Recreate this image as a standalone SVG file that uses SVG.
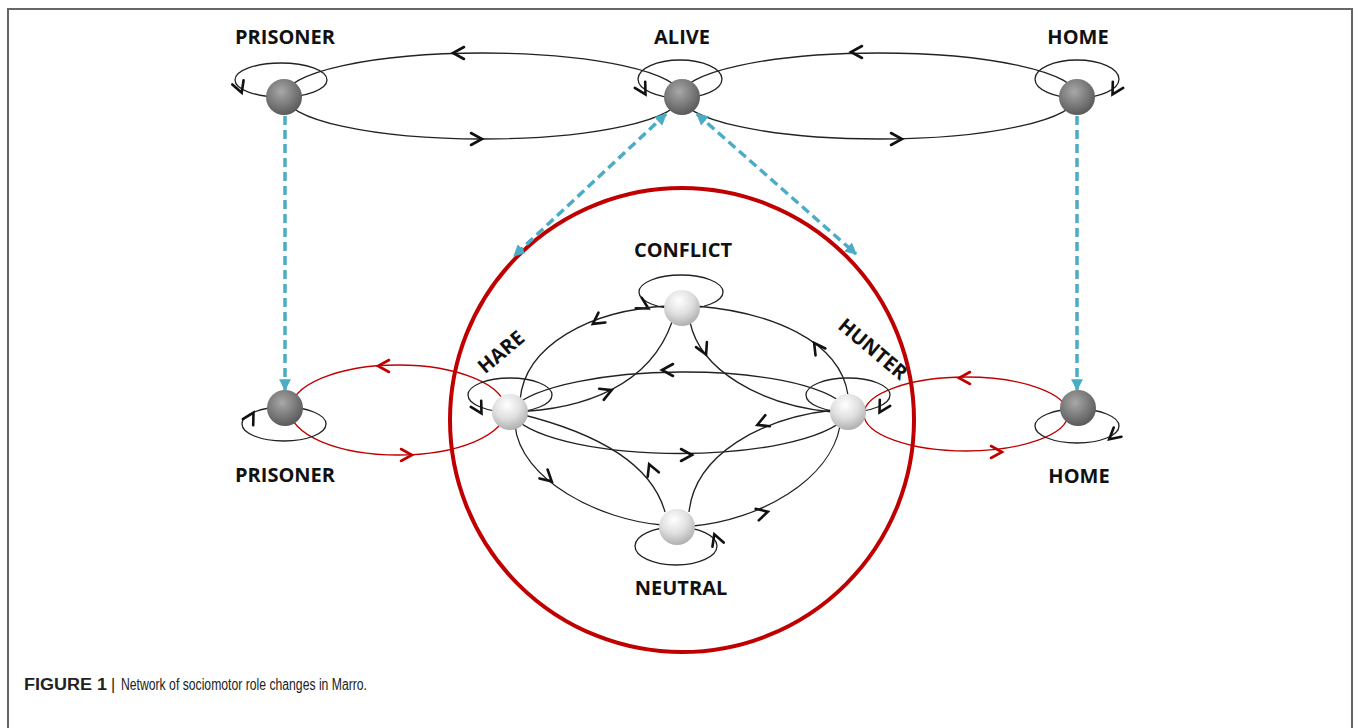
<svg xmlns="http://www.w3.org/2000/svg" xmlns:xlink="http://www.w3.org/1999/xlink" width="1360" height="728" viewBox="0 0 1360 728">
<style>
.lbl{font-family:"Open Sans","Liberation Sans",sans-serif;font-weight:700;font-size:20px;fill:#111;text-anchor:middle}
.e{fill:none;stroke:#222;stroke-width:1.3}
.r{fill:none;stroke:#c00000;stroke-width:1.3}
.blue{fill:none;stroke:#4bacc6;stroke-width:3.5;stroke-dasharray:9 5}
.ch{fill:none;stroke:#111;stroke-width:2.6;stroke-linejoin:miter;stroke-linecap:round}
.chr{fill:none;stroke:#c00000;stroke-width:2.6;stroke-linecap:round}
.cap{font-family:"Liberation Sans",Arial,sans-serif;font-size:16px;fill:#222}
</style>
<defs>
<radialGradient id="gd" cx="0.42" cy="0.35" r="0.7">
<stop offset="0" stop-color="#a8a8a8"/><stop offset="0.55" stop-color="#7a7a7a"/><stop offset="1" stop-color="#545454"/>
</radialGradient>
<radialGradient id="gl" cx="0.42" cy="0.3" r="0.75">
<stop offset="0" stop-color="#ffffff"/><stop offset="0.5" stop-color="#e0e0e0"/><stop offset="1" stop-color="#a9a9a9"/>
</radialGradient>
<path id="chev" d="M-6,-6 L5,0 L-6,6"/>
<marker id="ba" viewBox="0 0 10 10" refX="9" refY="5" markerWidth="3.4" markerHeight="3.4" orient="auto-start-reverse" markerUnits="strokeWidth">
<path d="M0,0 L10,5 L0,10 z" fill="#4bacc6"/>
</marker>
</defs>
<rect x="8" y="9" width="1344" height="740" fill="#fff" stroke="#666" stroke-width="2"/>

<circle id="bigcircle" cx="682" cy="420" r="232" fill="none" stroke="#c00000" stroke-width="4"/>

<g id="connectors">
<ellipse class="e" cx="483" cy="96" rx="198" ry="43"/>
<ellipse class="e" cx="879" cy="96" rx="198" ry="43"/>
<ellipse class="e" cx="281" cy="80" rx="46" ry="17"/>
<ellipse class="e" cx="680" cy="79" rx="42" ry="19"/>
<ellipse class="e" cx="1077" cy="79" rx="42" ry="19"/>
<use href="#chev" class="ch" transform="translate(458,53) rotate(180)"/>
<use href="#chev" class="ch" transform="translate(477,139)"/>
<use href="#chev" class="ch" transform="translate(856,52) rotate(180)"/>
<use href="#chev" class="ch" transform="translate(897,139)"/>
<use href="#chev" class="ch" transform="translate(240,88) rotate(70)"/>
<use href="#chev" class="ch" transform="translate(643,90) rotate(60)"/>
<use href="#chev" class="ch" transform="translate(1115,90) rotate(120)"/>
<line class="blue" x1="285" y1="116" x2="285" y2="390" marker-end="url(#ba)"/>
<line class="blue" x1="1077" y1="116" x2="1077" y2="390" marker-end="url(#ba)"/>
<line class="blue" x1="666" y1="114" x2="514" y2="256" marker-start="url(#ba)" marker-end="url(#ba)"/>
<line class="blue" x1="697" y1="114" x2="856" y2="254" marker-start="url(#ba)" marker-end="url(#ba)"/>
<ellipse class="r" cx="398" cy="410" rx="108" ry="45"/>
<ellipse class="r" cx="966" cy="414" rx="102" ry="37"/>
<use href="#chev" class="chr" transform="translate(383,366) rotate(180)"/>
<use href="#chev" class="chr" transform="translate(407,455)"/>
<use href="#chev" class="chr" transform="translate(964,378) rotate(180)"/>
<use href="#chev" class="chr" transform="translate(997,452)"/>
<ellipse class="e" cx="284" cy="424" rx="42" ry="17"/>
<ellipse class="e" cx="1077" cy="426" rx="42" ry="17"/>
<use href="#chev" class="ch" transform="translate(251,417) rotate(-60)"/>
<use href="#chev" class="ch" transform="translate(1113,436) rotate(140)"/>
<ellipse class="e" cx="510" cy="395" rx="42" ry="17"/>
<ellipse class="e" cx="848" cy="395" rx="42" ry="17"/>
<ellipse class="e" cx="681" cy="292" rx="42" ry="17"/>
<ellipse class="e" cx="676" cy="546" rx="41" ry="19"/>
<use href="#chev" class="ch" transform="translate(479,409) rotate(60)"/>
<use href="#chev" class="ch" transform="translate(882,408) rotate(120)"/>
<use href="#chev" class="ch" transform="translate(644,306) rotate(30)"/>
<use href="#chev" class="ch" transform="translate(716,539) rotate(-110)"/>
<path class="e" d="M512,408 C560,362 800,358 848,408"/>
<path class="e" d="M512,416 C560,466 800,466 848,416"/>
<path class="e" d="M520,400 C525,345 590,310 668,306"/>
<path class="e" d="M512,412 C585,410 650,385 672,322"/>
<path class="e" d="M696,306 C770,312 840,340 848,395"/>
<path class="e" d="M690,322 C700,370 760,405 832,412"/>
<path class="e" d="M515,425 C520,480 600,520 662,525"/>
<path class="e" d="M520,414 C585,430 650,458 665,512"/>
<path class="e" d="M689,512 C695,455 760,418 834,410"/>
<path class="e" d="M693,526 C760,520 830,480 840,426"/>
<use href="#chev" class="ch" transform="translate(667,370) rotate(180)"/>
<use href="#chev" class="ch" transform="translate(687,455)"/>
<use href="#chev" class="ch" transform="translate(597,321) rotate(145)"/>
<use href="#chev" class="ch" transform="translate(607,392) rotate(-22)"/>
<use href="#chev" class="ch" transform="translate(817,347) rotate(-125)"/>
<use href="#chev" class="ch" transform="translate(704,350) rotate(65)"/>
<use href="#chev" class="ch" transform="translate(548,478) rotate(42)"/>
<use href="#chev" class="ch" transform="translate(651,469) rotate(-112)"/>
<use href="#chev" class="ch" transform="translate(762,423) rotate(158)"/>
<use href="#chev" class="ch" transform="translate(763,513) rotate(-15)"/>
</g>

<g id="node-prisoner-top"><circle cx="284" cy="97" r="18" fill="url(#gd)"/><text class="lbl" x="285" y="44">PRISONER</text></g>
<g id="node-alive"><circle cx="682" cy="97" r="18" fill="url(#gd)"/><text class="lbl" x="682" y="44">ALIVE</text></g>
<g id="node-home-top"><circle cx="1077" cy="97" r="18" fill="url(#gd)"/><text class="lbl" x="1078" y="44">HOME</text></g>
<g id="node-prisoner-bottom"><circle cx="285" cy="408" r="18" fill="url(#gd)"/><text class="lbl" x="285" y="482">PRISONER</text></g>
<g id="node-home-bottom"><circle cx="1078" cy="408" r="18" fill="url(#gd)"/><text class="lbl" x="1079" y="483">HOME</text></g>
<g id="node-hare"><circle cx="510" cy="412" r="18" fill="url(#gl)"/><text class="lbl" transform="translate(501,352) rotate(-40)" x="0" y="7">HARE</text></g>
<g id="node-hunter"><circle cx="848" cy="412" r="18" fill="url(#gl)"/><text class="lbl" transform="translate(873,349) rotate(40)" x="0" y="7">HUNTER</text></g>
<g id="node-conflict"><circle cx="682" cy="308" r="18" fill="url(#gl)"/><text class="lbl" x="683" y="257">CONFLICT</text></g>
<g id="node-neutral"><circle cx="677" cy="527" r="18" fill="url(#gl)"/><text class="lbl" x="681" y="595">NEUTRAL</text></g>

<text class="cap" y="690"><tspan x="24" font-weight="700" textLength="83" lengthAdjust="spacingAndGlyphs">FIGURE 1</tspan><tspan x="111">|</tspan><tspan x="121" textLength="246" lengthAdjust="spacingAndGlyphs">Network of sociomotor role changes in Marro.</tspan></text>
</svg>
